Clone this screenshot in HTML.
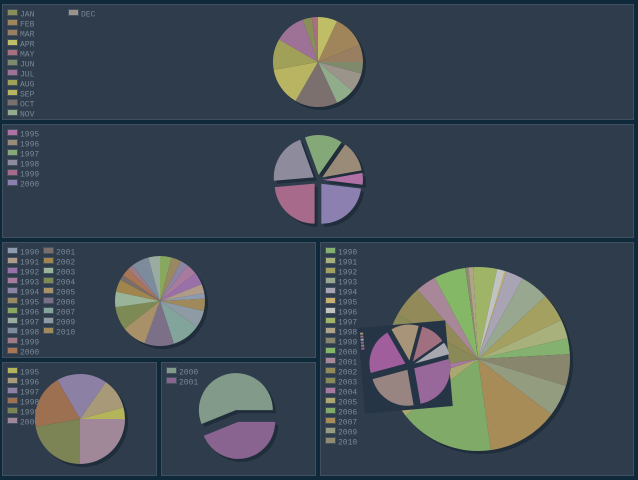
<!DOCTYPE html>
<html><head><meta charset="utf-8"><style>
html,body{margin:0;padding:0;background:#10293a;}
svg{display:block;}
text{font-family:"Liberation Mono",monospace;font-size:8px;fill:#7a8795;}
</style></head><body>
<svg id="s" width="638" height="480" viewBox="0 0 638 480" xmlns="http://www.w3.org/2000/svg">
<rect width="638" height="480" fill="#10293a"/>
</svg>
<script>
// ---- data ----
const p1Labels=["JAN","FEB","MAR","APR","MAY","JUN","JUL","AUG","SEP","OCT","NOV","DEC"];
const p1Colors=["#8a8f5a","#a0845a","#9a7e62","#bfbd66","#a8707e","#7f8a6c","#9e7296","#a0a058","#b8b462","#7c706e","#90ac8a","#9a948a"];
const p1Order=["APR","FEB","MAR","JUN","DEC","NOV","OCT","SEP","AUG","JUL","JAN","MAY"];
const p1Values=[12,43,22,25,8,15,40,40,50,55,25,25];

const p2Labels=["1995","1996","1997","1998","1999","2000"];
const p2Colors=["#b071a6","#9a8a78","#84a878","#8e8c9c","#a86a8a","#8c80b0"];
const p2Order=["1997","1996","1995","2000","1999","1998"];
const p2Values=[17,45,55,75,85,83];

const p3Labels=["1990","1991","1992","1993","1994","1995","1996","1997","1998","1999","2000","2001","2002","2003","2004","2005","2006","2007","2009","2010"];
const p3Colors=["#8e9ab0","#b09a88","#9a70a8","#a87a9e","#8c84a4","#9a8860","#88a860","#9aaca0","#7c8c9c","#a07a84","#a87654","#7a6e6a","#a0864e","#9ab49a","#7e8a56","#a89068","#7c7088","#82a49a","#8e9aa4","#a08a5c"];
const p3Order=["1996","1995","1994","1993","1992","1991","1990","2010","2009","2007","2006","2005","2004","2003","2002","2001","2000","1999","1998","1997"];
const p3Values=[7,12,16,14,10,13,15,15,23,7,10,7,16,20,30,32,38,37,22,16];

const p4Labels=["1995","1996","1997","1998","1999","2000"];
const p4Colors=["#b4b45a","#a89a78","#8c80a4","#9c7050","#7c8456","#a08898"];
const p4Values=[15,40,65,70,80,90];

const p5Labels=["2000","2001"];
const p5Colors=["#829a8a","#8a6490"];
const p5Values=[202,158];

const p6Labels=["1990","1991","1992","1993","1994","1995","1996","1997","1998","1999","2000","2001","2002","2003","2004","2005","2006","2007","2009","2010"];
const p6Colors=["#84b070","#a8b07c","#a4a060","#98a890","#a8a4b4","#c8b070","#c0c4c0","#a0b468","#b0a488","#88866c","#84b866","#a88898","#928a58","#8a8a58","#a878a0","#aaa870","#80aa68","#a88c58","#949c80","#908a70"];
const p6Order=["1997","1996","1995","1994","1993","1992","1991","1990","1999","2009","2007","2006","2005","2004","2003","2002","2001","2000","2010","1998"];
const p6Values=[10,12,18,18,11,1,5,15,3,20,20,13,20,38,10,19,60,45,20,2];

const insetColors=["#a89478","#a07080","#a8a8b0","#98689a","#988480","#a05e9c"];
const insetValues=[45,40,20,95,85,75];

// ---- helpers ----
const NS="http://www.w3.org/2000/svg";
const svg=document.getElementById('s');
function mk(tag,attrs,parent){const e=document.createElementNS(NS,tag);for(const k in attrs)e.setAttribute(k,attrs[k]);(parent||svg).appendChild(e);return e;}
function panel(x,y,w,h,name){
  const r=mk('rect',{x:x+0.5,y:y+0.5,width:w-1,height:h-1,fill:'#2f3c4c',stroke:'#3f5060','stroke-width':1});
  
  
}
function legend(x,y,labels,colors,perCol,colW){
  labels.forEach((l,i)=>{
    const c=Math.floor(i/perCol),r=i%perCol;
    const lx=x+c*colW,ly=y+r*10;
    const g=mk('g',{});
    
    
    mk('rect',{x:lx+0.5,y:ly+0.5,width:10,height:6,fill:colors[i],stroke:'#45525f','stroke-width':1},g);
    const t=mk('text',{x:lx+13,y:ly+7.5},g);t.textContent=l;
  });
}
function pt(cx,cy,r,deg){const a=(deg-90)*Math.PI/180;return [cx+r*Math.cos(a),cy+r*Math.sin(a)];}
function slicePath(cx,cy,r,a0,a1){
  const p0=pt(cx,cy,r,a0),p1=pt(cx,cy,r,a1);const large=(a1-a0)>180?1:0;
  return `M${cx},${cy}L${p0[0]},${p0[1]}A${r},${r} 0 ${large} 1 ${p1[0]},${p1[1]}Z`;
}
// angles: start deg (clockwise from 12 o'clock), dir=1 clockwise,-1 ccw; values in degrees-ish (normalized)
function pie(parent,cx,cy,r,start,dir,vals,cols,names,explode,shadow){
  const tot=vals.reduce((a,b)=>a+b,0);
  const arcs=[];let a=start;
  vals.forEach((v,i)=>{const d=v/tot*360;let a0,a1;if(dir>0){a0=a;a1=a+d;}else{a0=a-d;a1=a;}a+=dir*d;arcs.push([a0,a1]);});
  ['sh','fg'].forEach(pass=>{
    arcs.forEach((ar,i)=>{
      const mid=(ar[0]+ar[1])/2;const o=pt(0,0,explode,mid);
      const ox=o[0]+(pass==='sh'?shadow:0),oy=o[1]+(pass==='sh'?shadow:0);
      const p=mk('path',{d:slicePath(cx+ox,cy+oy,r,ar[0],ar[1]),fill:pass==='sh'?'#202d3b':cols[i]},parent);
      
      
    });
  });
}
function pick(order,labels,arr){return order.map(l=>arr[labels.indexOf(l)]);}

// ---- panels ----
panel(2,4,632,116,'months-panel');
panel(2,124,632,114,'years-exploded-panel');
panel(2,242,314,116,'years-1990-2010-panel');
panel(2,362,155,114,'years-1995-2000-panel');
panel(161,362,155,114,'years-2000-2001-panel');
panel(320,242,314,234,'big-years-panel');

// panel 1
legend(7,9,p1Labels,p1Colors,11,61);
let g=mk('g',{});
pie(g,318,62,45,0,1,pick(p1Order,p1Labels,p1Values),pick(p1Order,p1Labels,p1Colors),p1Order,0,3);

// panel 2
legend(7,129,p2Labels,p2Colors,6,60);
g=mk('g',{});
pie(g,318,180,40,-20,1,pick(p2Order,p2Labels,p2Values),pick(p2Order,p2Labels,p2Colors),p2Order,5,3);

// panel 3
legend(7,247,p3Labels,p3Colors,11,36);
g=mk('g',{});
pie(g,160,301,45,0,1,pick(p3Order,p3Labels,p3Values),pick(p3Order,p3Labels,p3Colors),p3Order,0,3);

// panel 4
legend(7,367,p4Labels,p4Colors,6,60);
g=mk('g',{});
pie(g,80,419,45,90,-1,p4Values,p4Colors,p4Labels,0,3);

// panel 5
legend(166,367,p5Labels,p5Colors,6,60);
g=mk('g',{});
pie(g,237,416,37,90,-1,p5Values,p5Colors,p5Labels,6,3);

// panel 6
legend(325,247,p6Labels,p6Colors,20,60);
g=mk('g',{});
pie(g,478,359,92,-3,1,pick(p6Order,p6Labels,p6Values),pick(p6Order,p6Labels,p6Colors),p6Order,0,3);

// inset rotated chart
const ins=mk('g',{transform:'rotate(-5 405 365)'});


mk('rect',{x:361,y:324,width:88,height:86,fill:'#263546'},ins);
insetColors.forEach((c,i)=>{
  const r=mk('rect',{x:363,y:329+i*3,width:3,height:2,fill:c},ins);
  
  
});
pie(ins,410,366,36,-25,1,insetValues,insetColors,['a','b','c','d','e','f'],5,0);
</script>
</body></html>
